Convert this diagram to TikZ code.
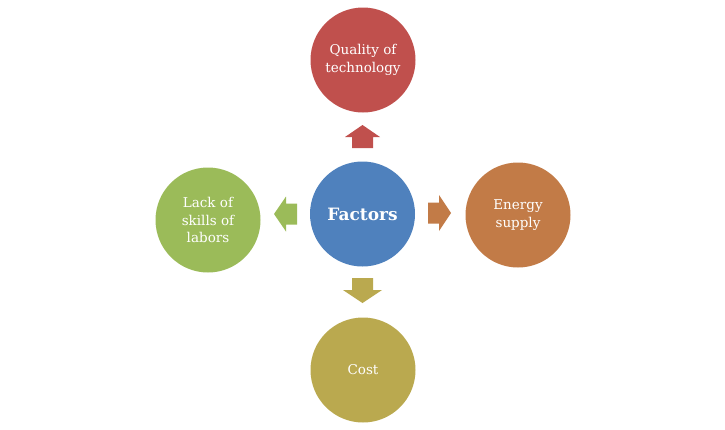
\documentclass[tikz,border=0pt]{standalone}
\usepackage{fontspec}
\setmainfont{DejaVu Serif}
\definecolor{cred}{HTML}{C0504D}
\definecolor{cblue}{HTML}{4F81BD}
\definecolor{corange}{HTML}{C27B47}
\definecolor{cgreen}{HTML}{9BBB59}
\definecolor{colive}{HTML}{BAA94F}
\tikzset{
  circ/.style={circle, minimum size=105pt, inner sep=0pt, text=white, align=center,
    font=\fontsize{13.5}{17.5}\selectfont},
  blockarrow/.style={fill=#1, draw=none},
}
\begin{document}
\begin{tikzpicture}[x=1pt,y=-1pt]
\useasboundingbox (0,0) rectangle (725,429);
\node[circ, fill=cblue, font=\fontsize{17}{20}\bfseries\selectfont] (c) at (362.5,214) {Factors};
\node[circ, fill=cred] (t) at (363,60) {Quality of\\technology};
\node[circ, fill=cgreen] (l) at (208,220) {Lack of\\skills of\\labors};
\node[circ, fill=corange] (r) at (518,215) {Energy\\supply};
\node[circ, fill=colive] (b) at (363,370) {Cost};
% up arrow
\coordinate (ua) at (362.5,125);
\fill[cred] (ua) -- ++(17.5,12) -- ++(-7,0) -- ++(0,11) -- ++(-21,0) -- ++(0,-11) -- ++(-7,0) -- cycle;
% down arrow
\coordinate (da) at (362.5,303);
\fill[colive] (da) -- ++(19.5,-13) -- ++(-9,0) -- ++(0,-12) -- ++(-21,0) -- ++(0,12) -- ++(-9,0) -- cycle;
% left arrow
\coordinate (la) at (274,214);
\fill[cgreen] (la) -- ++(12,-17.5) -- ++(0,7) -- ++(11,0) -- ++(0,21) -- ++(-11,0) -- ++(0,7) -- cycle;
% right arrow
\coordinate (ra) at (451,213);
\fill[corange] (ra) -- ++(-12,-18) -- ++(0,7.5) -- ++(-11,0) -- ++(0,21) -- ++(11,0) -- ++(0,7.5) -- cycle;
\end{tikzpicture}
\end{document}
